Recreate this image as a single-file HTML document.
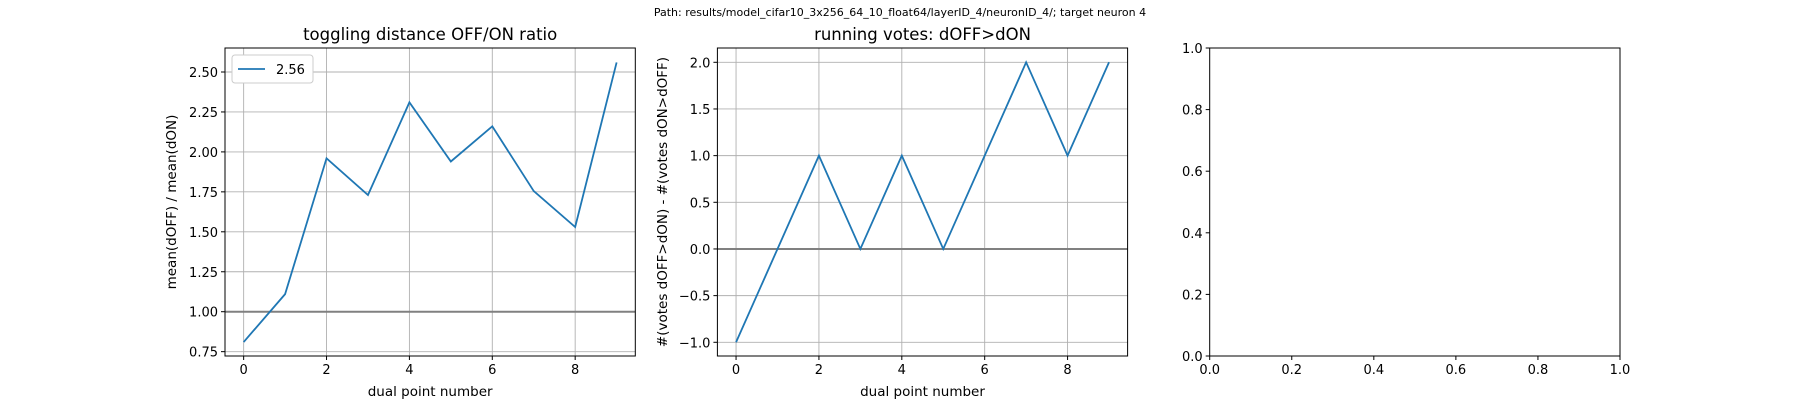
<!DOCTYPE html>
<html><head><meta charset="utf-8"><style>
body{margin:0;background:#fff;}
svg{display:block;font-family:"DejaVu Sans","Liberation Sans",sans-serif;}
</style></head><body>
<svg id="fig" width="1800" height="400" viewBox="0 0 1800 400">
<rect width="1800" height="400" fill="#fff"/>
<text x="900" y="16" font-size="11" text-anchor="middle">Path: results/model_cifar10_3x256_64_10_float64/layerID_4/neuronID_4/; target neuron 4</text>
</svg>
<script>
const xCats = [0,1,2,3,4,5,6,7,8,9];
const ratioValues = [0.81,1.11,1.96,1.73,2.31,1.94,2.16,1.755,1.53,2.56];
const votesValues = [-1,0,1,0,1,0,1,2,1,2];
const xTicks = [0,2,4,6,8];
const ratioTicks = [0.75,1.00,1.25,1.50,1.75,2.00,2.25,2.50];
const votesTicks = [-1.0,-0.5,0.0,0.5,1.0,1.5,2.0];
const emptyTicks = [0.0,0.2,0.4,0.6,0.8,1.0];

const NS='http://www.w3.org/2000/svg';
const svg=document.getElementById('fig');
function el(tag,attrs,parent){const e=document.createElementNS(NS,tag);for(const k in attrs)e.setAttribute(k,attrs[k]);(parent||svg).appendChild(e);return e;}
function txt(s,attrs,parent){const e=el('text',attrs,parent);e.textContent=s;return e;}

function panel(o){
  const g=el('g',{});
  
  
  const sx=v=>o.x0+(v-o.xv0)*o.xs;
  const sy=v=>o.y0-(v-o.yv0)*o.ys;
  if(o.grid){
    o.xt.forEach(t=>{const l=el('line',{x1:sx(t),x2:sx(t),y1:o.top,y2:o.bottom,stroke:'#b0b0b0','stroke-width':0.9},g);});
    o.yt.forEach(t=>{const l=el('line',{x1:o.left,x2:o.right,y1:sy(t),y2:sy(t),stroke:'#b0b0b0','stroke-width':0.9},g);});
  }
  if(o.href!==undefined){const l=el('line',{x1:o.left,x2:o.right,y1:sy(o.href),y2:sy(o.href),stroke:'#808080','stroke-width':2},g);}
  if(o.data){
    const p=el('polyline',{points:o.data.map((v,i)=>sx(xCats[i])+','+sy(v)).join(' '),fill:'none',stroke:'#1f77b4','stroke-width':1.8},g);
    
  }
  const fr=el('rect',{x:o.left,y:o.top,width:o.right-o.left,height:o.bottom-o.top,fill:'none',stroke:'#000','stroke-width':1},g);
  
  o.xt.forEach(t=>{el('line',{x1:sx(t),x2:sx(t),y1:o.bottom,y2:o.bottom+4,stroke:'#000'},g);
    const s=txt(o.xfmt(t),{x:sx(t),y:o.bottom+18,'font-size':13,'text-anchor':'middle'},g);});
  o.yt.forEach(t=>{el('line',{x1:o.left-4,x2:o.left,y1:sy(t),y2:sy(t),stroke:'#000'},g);
    const s=txt(o.yfmt(t),{x:o.left-7,y:sy(t)+5,'font-size':13,'text-anchor':'end'},g);});
  if(o.title){const s=txt(o.title,{x:(o.left+o.right)/2,y:40,'font-size':16.5,'text-anchor':'middle'},g);}
  if(o.xlabel){const s=txt(o.xlabel,{x:(o.left+o.right)/2,y:396,'font-size':13.5,'text-anchor':'middle'},g);}
  if(o.ylabel){const yx=o.ylx,yy=(o.top+o.bottom)/2;const s=txt(o.ylabel,{x:yx,y:yy,'font-size':13.5,'text-anchor':'middle',transform:'rotate(-90 '+yx+' '+yy+')'},g);}
  return g;
}
const f2=v=>v.toFixed(2), f1=v=>(v<0?'\u2212':'')+Math.abs(v).toFixed(1), f0=v=>String(v);

panel({name:'ratio-panel',left:225,right:635.3,top:48,bottom:356,x0:243.65,xv0:0,xs:41.44,y0:72,yv0:2.5,ys:159.8,
  grid:true,href:1.0,data:ratioValues,xt:xTicks,yt:ratioTicks,xfmt:f0,yfmt:f2,
  title:'toggling distance OFF/ON ratio',xlabel:'dual point number',ylabel:'mean(dOFF) / mean(dON)',ylx:176});
panel({name:'votes-panel',left:717.4,right:1127.6,top:48,bottom:356,x0:736.05,xv0:0,xs:41.44,y0:62.3,yv0:2.0,ys:93.33,
  grid:true,href:0,data:votesValues,xt:xTicks,yt:votesTicks,xfmt:f0,yfmt:f1,
  title:'running votes: dOFF>dON',xlabel:'dual point number',ylabel:'#(votes dOFF>dON) - #(votes dON>dOFF)',ylx:667});
panel({name:'empty-panel',left:1209.7,right:1620,top:48,bottom:356,x0:1209.7,xv0:0,xs:410.3,y0:356,yv0:0,ys:308,
  grid:false,xt:emptyTicks,yt:emptyTicks,xfmt:f1,yfmt:f1});

// legend
const lg=el('g',{});


el('rect',{x:232,y:55,width:81,height:28,rx:3,fill:'#fff',stroke:'#ccc','stroke-width':1},lg);
const ll=el('line',{x1:238,x2:265,y1:69,y2:69,stroke:'#1f77b4','stroke-width':1.8},lg);

const lt=txt(ratioValues[ratioValues.length-1].toFixed(2),{x:276,y:74,'font-size':13},lg);

</script>
</body></html>
